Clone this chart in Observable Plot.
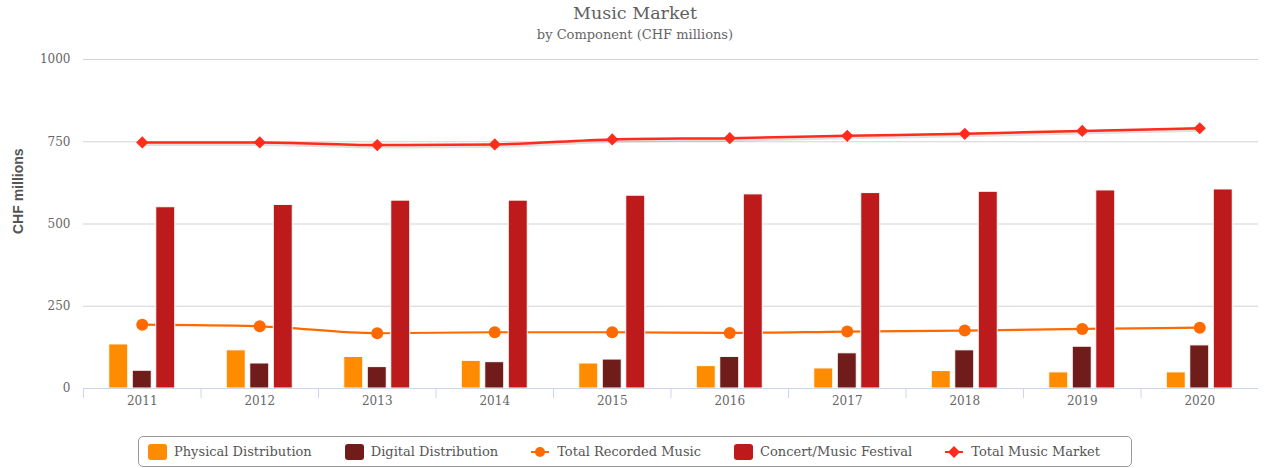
<!DOCTYPE html>
<html>
<head>
<meta charset="utf-8">
<script src="https://cdn.jsdelivr.net/npm/d3@7"></script>
<script src="https://cdn.jsdelivr.net/npm/@observablehq/plot@0.6"></script>
<style>
  html, body { margin: 0; padding: 0; background: #fff; }
  body { position: relative; width: 1270px; height: 468px; overflow: hidden; font-family: "DejaVu Serif", serif; }
  #title { position: absolute; top: 2px; left: 0; width: 1270px; text-align: center; font-size: 17.5px; line-height: 22px; color: #5f5f5f; }
  #subtitle { position: absolute; top: 26.5px; left: 0; width: 1270px; text-align: center; font-size: 13px; line-height: 16px; color: #666; }
  #chart { position: absolute; top: 45px; left: 0; }
  #legend { position: absolute; left: 138px; top: 436px; width: 994px; height: 31px; border: 1px solid #999; border-radius: 5px; box-sizing: border-box; display: flex; align-items: center; padding-left: 9px; white-space: nowrap; }
  .item { display: flex; align-items: center; flex-shrink: 0; margin-right: 33px; font-size: 13px; color: #555; white-space: nowrap; }
  .sw { width: 19px; height: 16px; border-radius: 3px; margin-right: 7px; flex-shrink: 0; }
  .sym { margin-right: 8px; flex-shrink: 0; }
</style>
</head>
<body>
<div id="title">Music Market</div>
<div id="subtitle">by Component (CHF millions)</div>
<div id="chart"></div>
<div id="legend"></div>
<script>
const years = ["2011","2012","2013","2014","2015","2016","2017","2018","2019","2020"];
const physical = [134, 116, 96, 84, 76, 68, 61, 53, 49, 49];
const digital  = [54, 76, 65, 80, 88, 96, 107, 116, 127, 131];
const concert  = [551, 558, 571, 571, 586, 590, 594, 598, 602, 605];
const recorded = [194, 189, 168, 171, 171, 169, 173, 176, 181, 185];
const total    = [748, 748, 740, 742, 757, 761, 768, 774, 783, 791];
const yTicks = [0, 250, 500, 750, 1000];
const seriesNames = ["Physical Distribution", "Digital Distribution", "Total Recorded Music", "Concert/Music Festival", "Total Music Market"];

const colors = {
  physical: "#ff8c00",
  digital: "#701c1b",
  recorded: "#ff6a00",
  concert: "#bd1b1b",
  total: "#ff2b1b"
};

const rows = years.map((year, i) => ({
  year, physical: physical[i], digital: digital[i], concert: concert[i], recorded: recorded[i], total: total[i]
}));

const W = 1270, ML = 83, MR = 12;
const bw = (W - ML - MR) / years.length;
const barW = 19;
const inset = (bw - barW) / 2;
const off = 23.5;

function bars(key, dx) {
  return Plot.barY(rows, {
    x: "year", y: key, fill: colors[key], stroke: "#fff", strokeWidth: 1,
    insetLeft: inset, insetRight: inset, dx
  });
}

const chart = Plot.plot({
  width: W, height: 378,
  marginLeft: ML, marginRight: MR, marginTop: 14, marginBottom: 35,
  style: { fontFamily: "DejaVu Serif", fontSize: "12px", color: "#666", background: "transparent" },
  x: { type: "band", domain: years, padding: 0, round: false, label: null },
  y: { domain: [0, 1000], label: null },
  marks: [
    Plot.ruleY(yTicks.filter(d => d > 0), { stroke: "#d3d3d3", strokeWidth: 1 }),
    Plot.axisY({ ticks: yTicks, tickFormat: d => String(d), tickSize: 0, tickPadding: 13, label: null, fill: "#666" }),
    Plot.text(["CHF millions"], {
      text: d => d, frameAnchor: "left", rotate: -90, dx: -65, dy: 10,
      fontFamily: "Liberation Sans", fontWeight: "bold", fontSize: 14, fill: "#555"
    }),
    Plot.line(rows, { x: "year", y: "recorded", stroke: colors.recorded, strokeWidth: 2.2, curve: "monotone-x" }),
    Plot.dot(rows, { x: "year", y: "recorded", r: 6, fill: colors.recorded, stroke: "none" }),
    bars("physical", -off),
    bars("digital", 0),
    bars("concert", off),
    Plot.ruleY([0], { stroke: "#ccd6eb", strokeWidth: 1 }),
    Plot.axisX({ tickSize: 10, dx: -bw / 2, tickFormat: () => "", stroke: "#ccd6eb", label: null }),
    Plot.axisX({ tickSize: 0, tickPadding: 8, label: null, fill: "#666" }),
    Plot.line(rows, { x: "year", y: "total", stroke: "#000", strokeOpacity: 0.12, strokeWidth: 4, dy: 1.5, curve: "monotone-x" }),
    Plot.line(rows, { x: "year", y: "total", stroke: colors.total, strokeWidth: 2.5, curve: "monotone-x" }),
    Plot.dot(rows, { x: "year", y: "total", symbol: "diamond2", r: 5.5, fill: colors.total, stroke: "none" })
  ]
});
document.getElementById("chart").appendChild(chart);

// Legend
const legend = document.getElementById("legend");
const legendDefs = [
  { name: seriesNames[0], type: "box", color: colors.physical },
  { name: seriesNames[1], type: "box", color: colors.digital },
  { name: seriesNames[2], type: "circle", color: colors.recorded },
  { name: seriesNames[3], type: "box", color: colors.concert },
  { name: seriesNames[4], type: "diamond", color: colors.total }
];
legendDefs.forEach(d => {
  const it = document.createElement("div");
  it.className = "item";
  if (d.type === "box") {
    const s = document.createElement("div");
    s.className = "sw";
    s.style.background = d.color;
    it.appendChild(s);
  } else {
    const ns = "http://www.w3.org/2000/svg";
    const svg = document.createElementNS(ns, "svg");
    svg.setAttribute("width", 18); svg.setAttribute("height", 14);
    svg.setAttribute("class", "sym");
    const ln = document.createElementNS(ns, "line");
    ln.setAttribute("x1", 0); ln.setAttribute("x2", 18); ln.setAttribute("y1", 7); ln.setAttribute("y2", 7);
    ln.setAttribute("stroke", d.color); ln.setAttribute("stroke-width", 2);
    svg.appendChild(ln);
    if (d.type === "circle") {
      const c = document.createElementNS(ns, "circle");
      c.setAttribute("cx", 9); c.setAttribute("cy", 7); c.setAttribute("r", 5);
      c.setAttribute("fill", d.color);
      svg.appendChild(c);
    } else {
      const p = document.createElementNS(ns, "path");
      p.setAttribute("d", "M9,1L15,7L9,13L3,7Z");
      p.setAttribute("fill", d.color);
      svg.appendChild(p);
    }
    it.appendChild(svg);
  }
  const t = document.createElement("span");
  t.textContent = d.name;
  it.appendChild(t);
  legend.appendChild(it);
});
</script>
</body>
</html>
